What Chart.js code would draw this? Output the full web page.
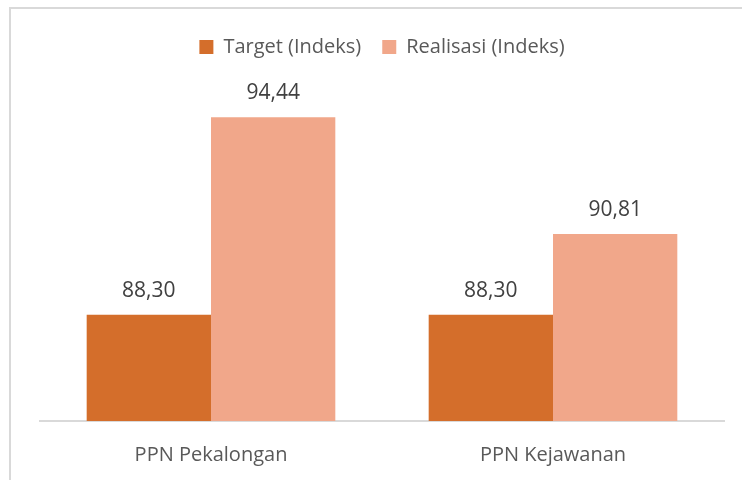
<!DOCTYPE html>
<html>
<head>
<meta charset="utf-8">
<script src="https://cdn.jsdelivr.net/npm/chart.js@4"></script>
<style>
  html, body { margin: 0; padding: 0; background: #fff; }
  #wrap { position: relative; width: 742px; height: 480px; }
  #frame { position: absolute; left: 9px; top: 7px; width: 733px; height: 473px; border-left: 2px solid #d9d9d9; border-top: 2px solid #d9d9d9; box-sizing: border-box; }
  canvas { position: absolute; left: 0; top: 0; }
</style>
</head>
<body>
<div id="wrap">
  <div id="frame"></div>
  <canvas id="c" width="742" height="480"></canvas>
</div>
<script>
const categories = ["PPN Pekalongan", "PPN Kejawanan"];
const targetValues = [88.30, 88.30];
const realisasiValues = [94.44, 90.81];
const seriesNames = ["Target (Indeks)", "Realisasi (Indeks)"];

const fontFamily = "'Open Sans', 'Noto Sans', sans-serif";
const textColor = "#595959";

const valueLabels = {
  id: "valueLabels",
  afterDatasetsDraw(chart) {
    const ctx = chart.ctx;
    ctx.save();
    ctx.font = "21px " + fontFamily;
    ctx.fillStyle = "#404040";
    ctx.textAlign = "center";
    ctx.textBaseline = "middle";
    chart.data.datasets.forEach((ds, i) => {
      const meta = chart.getDatasetMeta(i);
      meta.data.forEach((bar, j) => {
        const txt = ds.data[j].toFixed(2).replace(".", ",");
        ctx.fillText(txt, bar.x, bar.y - 24);
      });
    });
    ctx.restore();
  }
};

new Chart(document.getElementById("c"), {
  type: "bar",
  data: {
    labels: categories,
    datasets: [
      { label: seriesNames[0], data: targetValues, backgroundColor: "#d46e2b", borderWidth: 0 },
      { label: seriesNames[1], data: realisasiValues, backgroundColor: "#f1a78a", borderWidth: 0 }
    ]
  },
  options: {
    responsive: false,
    animation: false,
    layout: { padding: { left: 40, right: 18, top: 16, bottom: 14 } },
    categoryPercentage: 0.727,
    barPercentage: 1.0,
    plugins: {
      legend: {
        position: "top",
        labels: {
          font: { family: fontFamily, size: 20 },
          color: textColor,
          boxWidth: 14,
          boxHeight: 14,
          padding: 21
        }
      },
      tooltip: { enabled: false }
    },
    scales: {
      x: {
        grid: { display: false },
        border: { display: true, color: "#d9d9d9", width: 2 },
        ticks: { font: { family: fontFamily, size: 20 }, color: textColor, padding: 14 },
        afterFit(scale) { scale.height = 45; }
      },
      y: {
        display: false,
        min: 85,
        max: 96
      }
    }
  },
  plugins: [valueLabels]
});
</script>
</body>
</html>
